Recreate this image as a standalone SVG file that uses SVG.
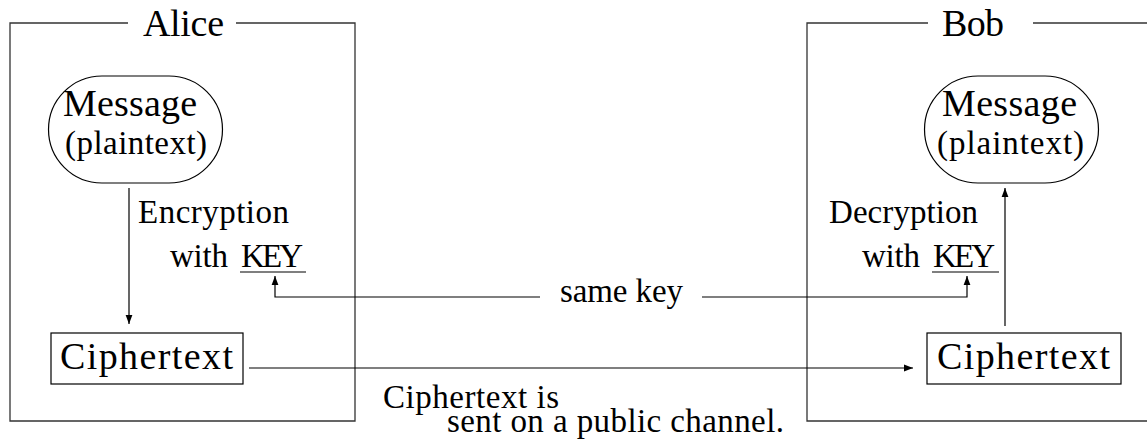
<svg xmlns="http://www.w3.org/2000/svg" width="1147" height="441" viewBox="0 0 1147 441">
  <style>
    text { font-family: "Liberation Serif", "Times New Roman", serif; fill: #000; }
    .title { font-size: 38px; }
    .big { font-size: 38px; }
    .mid { font-size: 33px; }
    .frame { fill: none; stroke: #333; stroke-width: 1.3; }
    .shape { fill: #fff; stroke: #000; stroke-width: 1.2; }
    .edge { fill: none; stroke: #000; stroke-width: 1.2; }
    .uline { stroke: #000; stroke-width: 1.2; }
  </style>
  <defs>
    <marker id="head" markerUnits="userSpaceOnUse" markerWidth="10" markerHeight="8" refX="9" refY="4" orient="auto">
      <path d="M0,0.6 L9,4 L0,7.4 z" fill="#000"/>
    </marker>
  </defs>
  <rect width="1147" height="441" fill="#fff"/>

  <!-- Alice frame -->
  <g id="alice">
    <path class="frame" d="M128,23 H10 V421 H355 V23 H236"/>
    <text class="title" x="143" y="36" textLength="81">Alice</text>
  </g>

  <!-- Bob frame (open to the right) -->
  <g id="bob">
    <path class="frame" d="M928,23 H807 V421 H1150"/>
    <path class="frame" d="M1033,23 H1150"/>
    <text class="title" x="942" y="36" textLength="62">Bob</text>
  </g>

  <g id="alice-message">
    <path class="shape" d="M102,76 H169 A53.5,53.5 0 0 1 169,183 H102 A53.5,53.5 0 0 1 102,76 Z"/>
    <text class="big" x="63" y="116" textLength="134">Message</text>
    <text class="mid" x="65" y="154" textLength="142">(plaintext)</text>
  </g>

  <g id="bob-message">
    <path class="shape" d="M978,76 H1045 A53.5,53.5 0 0 1 1045,183 H978 A53.5,53.5 0 0 1 978,76 Z"/>
    <text class="big" x="942" y="116" textLength="135">Message</text>
    <text class="mid" x="937" y="154" textLength="147">(plaintext)</text>
  </g>

  <g id="alice-cipher">
    <rect class="shape" x="51" y="333" width="192" height="51"/>
    <text class="big" x="60" y="369" textLength="173">Ciphertext</text>
  </g>

  <g id="bob-cipher">
    <rect class="shape" x="927" y="333" width="194" height="51"/>
    <text class="big" x="937" y="369" textLength="173">Ciphertext</text>
  </g>

  <g id="encryption-label">
    <text class="mid" x="138" y="223" textLength="151">Encryption</text>
    <text class="mid" x="170" y="267" textLength="58">with</text>
    <text class="mid" x="241" y="267" textLength="62">KEY</text>
    <line class="uline" x1="240" y1="272" x2="306" y2="272"/>
  </g>

  <g id="decryption-label">
    <text class="mid" x="829" y="223" textLength="149">Decryption</text>
    <text class="mid" x="862" y="267" textLength="58">with</text>
    <text class="mid" x="933" y="267" textLength="62">KEY</text>
    <line class="uline" x1="932" y1="272" x2="999" y2="272"/>
  </g>

  <g id="channel-label">
    <text class="mid" x="383" y="408" textLength="176">Ciphertext is</text>
    <text class="mid" x="447" y="432" textLength="337">sent on a public channel.</text>
  </g>

  <g id="connectors">
    <path class="edge" d="M129,188 V324" marker-end="url(#head)"/>
    <path class="edge" d="M1005,326 V188" marker-end="url(#head)"/>
    <path class="edge" d="M249,368 H913" marker-end="url(#head)"/>
    <path class="edge" d="M540,297 H275 V276" marker-end="url(#head)"/>
    <path class="edge" d="M702,297 H967 V276" marker-end="url(#head)"/>
    <text class="mid" x="560" y="302" textLength="123">same key</text>
  </g>
</svg>
